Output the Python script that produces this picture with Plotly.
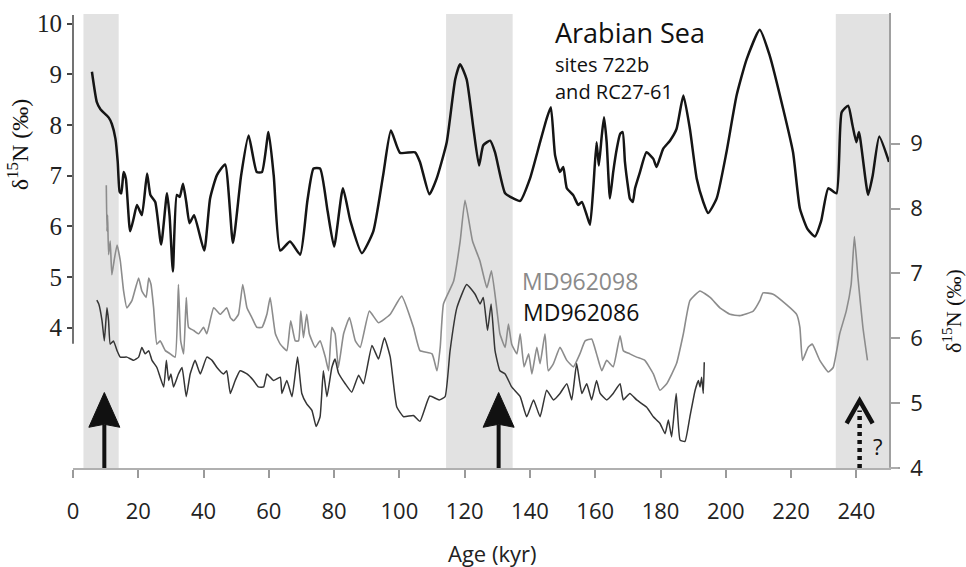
import plotly.graph_objects as go

# ---------------- data ----------------
# Arabian Sea, sites 722b and RC27-61 (left axis, d15N permil)
as_age = [5.8, 7.3, 8.4, 10.9, 11.9, 13.0, 13.7, 14.3, 14.8, 15.5, 16.2, 17.5, 18.6, 19.6, 21.1,
          22.7, 23.7, 25.2, 27.0, 28.8, 29.6, 30.6, 31.8, 32.7, 33.7, 34.7, 35.7, 37.1, 40.2, 42.0,
          44.1, 46.6, 49.0, 51.5, 53.8, 56.3, 57.9, 59.9, 61.5, 63.5, 66.5, 69.6, 71.8, 73.7, 75.7,
          78.0, 80.0, 82.7, 85.0, 88.5, 92.0, 95.0, 97.4, 100.2, 104.8, 106.3, 109.2, 111.4, 114.5,
          117.1, 118.6, 120.6, 122.7, 124.4, 125.7, 127.8, 129.3, 132.4, 134.9, 137.0, 140.0, 143.1,
          145.1, 146.4, 147.7, 149.2, 150.2, 151.3, 153.3, 154.8, 155.9, 157.4, 158.4, 159.4, 160.4,
          161.1, 162.0, 162.7, 163.5, 164.5, 165.5, 166.6, 167.6, 168.4, 169.1, 170.1, 170.6, 171.5,
          172.2, 173.7, 175.7, 177.8, 178.8, 180.8, 182.9, 184.9, 187.0, 189.0, 191.1, 193.1, 194.6,
          197.2, 200.2, 203.3, 206.4, 210.4, 213.5, 217.6, 220.6, 222.7, 225.0, 227.3, 229.2, 231.4,
          233.9, 235.5, 237.5, 238.8, 240.0, 240.8, 243.6, 245.0, 247.0, 250.0]
as_d15n = [9.05, 8.45, 8.31, 8.15, 8.02, 7.73, 7.27, 6.68, 6.65, 7.07, 6.94, 5.90, 6.16, 6.42, 6.22,
           7.04, 6.62, 6.48, 5.64, 6.65, 6.20, 5.11, 6.62, 6.58, 6.84, 6.48, 6.06, 6.22, 5.52, 6.55,
           7.01, 7.22, 5.67, 7.00, 7.79, 7.07, 7.07, 7.86, 7.00, 5.52, 5.70, 5.44, 6.50, 7.14, 7.14,
           6.30, 5.60, 6.75, 6.10, 5.47, 5.90, 7.00, 7.89, 7.45, 7.46, 7.27, 6.63, 6.94, 7.66,
           8.90, 9.20, 8.90, 7.92, 7.20, 7.60, 7.69, 7.46, 6.65, 6.55, 6.50, 6.94, 7.66,
           8.12, 8.35, 7.40, 7.07, 7.17, 6.75, 6.61, 6.42, 6.48, 6.22, 6.03, 6.75, 7.66,
           7.20, 7.79, 8.15, 7.66, 6.55, 7.07, 7.53, 7.82, 7.86, 7.27, 6.75, 6.55, 6.48,
           6.75, 7.07, 7.46, 7.33, 7.17, 7.53, 7.69, 7.92, 8.58, 7.92, 6.94, 6.48, 6.26,
           6.55, 7.46, 8.58, 9.30, 9.88, 9.36, 8.31, 7.46, 6.35, 5.95, 5.80, 6.10, 6.75,
           6.65, 8.25, 8.38, 8.00, 7.66, 7.86, 6.62, 7.00, 7.77, 7.27]

# MD962098 (right axis)
md98_age = [10.2, 10.4, 10.6, 10.9, 11.4, 11.9, 12.6, 13.5, 14.5, 15.5, 16.5, 18.05, 20.1, 21.1, 22.4,
            23.2, 23.9, 24.7, 25.7, 26.7, 28.3, 29.8, 31.3, 32.3, 33.0, 33.9, 34.7, 35.4, 37.0, 38.5,
            40.0, 41.0, 43.1, 45.1, 47.1, 48.2, 49.2, 50.7, 52.0, 53.3, 54.8, 56.3, 57.9, 59.4, 60.4,
            62.0, 63.5, 65.5, 66.7, 68.1, 69.1, 69.8, 70.6, 71.6, 72.4, 74.2, 75.7, 77.3, 78.3, 79.3,
            80.3, 81.3, 82.9, 84.7, 86.5, 88.0, 90.8, 93.6, 97.2, 100.7, 104.3, 106.3, 110.0, 111.5,
            112.5, 113.5, 116.6, 118.6, 120.1, 122.4, 124.7, 126.8, 128.2, 129.8, 130.8, 132.4, 133.4,
            134.4, 136.0, 137.0, 138.2, 139.6, 140.6, 142.1, 143.1, 144.6, 145.6, 147.2, 149.2, 151.3,
            153.3, 155.3, 156.9, 158.9, 160.4, 162.0, 163.5, 165.5, 167.6, 168.6, 170.6, 172.7, 175.2,
            177.8, 179.8, 181.9, 184.9, 187.0, 189.0, 192.1, 195.2, 198.2, 201.3, 204.3, 208.4, 210.4,
            211.4, 214.5, 218.6, 221.7, 222.7, 223.5, 225.2, 226.5, 228.8, 231.4, 232.9, 234.9, 236.9,
            238.4, 239.4, 240.5, 242.0, 243.4]
md98_d15n = [8.36, 7.65, 7.90, 7.29, 7.50, 6.98, 7.20, 7.44, 7.19, 6.73, 6.47, 6.58, 6.93, 6.73, 6.63,
             6.93, 6.83, 6.47, 5.91, 5.96, 5.81, 5.76, 5.71, 6.83, 5.96, 5.76, 6.63, 6.17, 6.12, 6.07,
             6.17, 6.07, 6.47, 6.37, 6.47, 6.32, 6.27, 6.37, 6.83, 6.47, 6.32, 6.17, 6.17, 6.37, 6.63,
             6.07, 5.91, 5.81, 6.27, 5.96, 5.96, 6.42, 6.01, 6.37, 6.07, 5.86, 5.96, 5.71, 5.50, 6.17,
             6.07, 5.55, 6.07, 6.32, 5.96, 5.86, 6.42, 6.24, 6.37, 6.65, 6.17, 5.81, 5.76, 5.50,
             5.86, 6.53, 6.88, 7.49, 8.13, 7.50, 7.19, 6.78, 7.04, 6.47, 6.07, 5.86, 6.22,
             5.91, 5.76, 6.07, 5.56, 5.76, 5.45, 5.86, 5.61, 6.07, 5.50, 5.61, 5.86, 5.66,
             5.56, 5.76, 5.96, 5.99, 5.76, 5.50, 5.66, 5.56, 6.04, 5.81, 5.76, 5.71, 5.66,
             5.45, 5.20, 5.30, 5.61, 6.07, 6.58, 6.73, 6.63, 6.47, 6.37, 6.35, 6.42, 6.58,
             6.70, 6.68, 6.52, 6.37, 6.17, 5.66, 5.86, 5.91, 5.66, 5.48, 5.55, 6.07, 6.42,
             6.83, 7.57, 6.93, 6.17, 5.66]

# MD962086 (right axis)
md86_age = [7.3, 7.9, 8.9, 9.6, 10.4, 10.9, 11.4, 12.4, 13.5, 14.5, 16.5, 18.6, 20.1, 21.1, 22.1,
            23.2, 24.2, 25.7, 26.7, 27.8, 28.6, 29.3, 30.0, 30.8, 32.3, 33.4, 34.7, 35.9, 37.4, 39.0,
            41.0, 42.6, 44.1, 46.1, 47.1, 48.2, 49.7, 51.2, 53.3, 55.3, 56.8, 58.4, 59.4, 61.4, 63.5,
            64.0, 65.5, 67.1, 68.8, 70.1, 71.6, 73.2, 74.5, 75.7, 76.7, 77.8, 79.3, 80.3, 81.3, 83.4,
            85.4, 87.5, 89.0, 91.6, 93.6, 95.4, 97.2, 99.2, 101.3, 104.3, 106.3, 109.3, 112.2, 114.0,
            115.5, 117.6, 120.6, 123.2, 124.7, 125.7, 127.0, 128.1, 129.3, 130.8, 132.4, 134.4, 137.0,
            139.0, 141.1, 143.1, 145.1, 147.2, 149.2, 151.3, 152.8, 154.3, 155.9, 157.4, 158.9, 160.4,
            161.5, 163.5, 165.5, 167.6, 168.6, 170.6, 172.7, 175.7, 177.8, 179.8, 181.4, 182.4, 183.4,
            184.8, 186.0, 187.5, 189.0, 190.6, 191.6, 192.1, 192.6, 193.1, 193.4]
md86_d15n = [6.59, 6.53, 6.27, 5.96, 6.47, 6.27, 5.91, 5.96, 5.81, 5.71, 5.71, 5.66, 5.71, 5.86, 5.76,
             5.81, 5.66, 5.55, 5.40, 5.25, 5.66, 5.35, 5.45, 5.25, 5.45, 5.55, 5.10, 5.45, 5.66, 5.45,
             5.71, 5.66, 5.55, 5.45, 5.50, 5.15, 5.35, 5.50, 5.45, 5.35, 5.25, 5.25, 5.45, 5.35, 5.40,
             5.15, 5.35, 5.10, 5.71, 5.15, 4.99, 4.89, 4.64, 4.79, 5.50, 5.10, 5.55, 5.68, 5.47, 5.30,
             5.17, 5.43, 5.30, 5.89, 5.68, 6.01, 5.71, 4.94, 4.79, 4.81, 4.72, 5.11, 5.05, 5.10,
             5.80, 6.47, 6.83, 6.68, 6.53, 6.63, 6.12, 6.53, 5.81, 5.50, 5.45, 5.25, 5.10,
             4.79, 5.05, 4.79, 5.20, 5.05, 5.15, 5.30, 5.05, 5.61, 5.15, 5.30, 5.05, 5.35,
             5.15, 5.05, 5.15, 5.30, 5.05, 5.15, 5.05, 4.94, 4.79, 4.69, 4.53, 4.74, 4.48,
             5.15, 4.43, 4.41, 4.79, 5.20, 5.35, 5.25, 5.40, 5.15, 5.63]

# shaded intervals (kyr)
band_start = [3.2, 114.3, 233.7]
band_end = [14.0, 134.7, 250.0]

# arrow positions (kyr); last one is the uncertain (dotted) one
arrow_age = [9.6, 130.4]
dotted_arrow_age = 241.0

x_ticks = list(range(0, 241, 20))
left_ticks = [4, 5, 6, 7, 8, 9, 10]
right_ticks = [4, 5, 6, 7, 8, 9]

# ---------------- layout geometry ----------------
W, H = 966, 567
ML, MR, MT, MB = 73, 77, 10, 99
PW, PH = W - ML - MR, H - MT - MB
X_RANGE = [0, 250]
Y_LEFT = [1.229, 10.21]
Y_RIGHT = [4.0, 11.017]
SANS = "Open Sans"
SERIF = "Liberation Serif"

def xpaper(px):
    return (px - ML) / PW

def ypaper(py):
    return (H - MB - py) / PH

def kyr_dx(dpx):
    return dpx * (X_RANGE[1] - X_RANGE[0]) / PW

def yr(py):
    return Y_RIGHT[0] + (H - MB - py) * (Y_RIGHT[1] - Y_RIGHT[0]) / PH

fig = go.Figure()
fig.add_trace(go.Scatter(x=as_age, y=as_d15n, mode="lines", yaxis="y",
                         line=dict(color="#151515", width=2.5, shape="spline", smoothing=0.5),
                         name="Arabian Sea"))
fig.add_trace(go.Scatter(x=md98_age, y=md98_d15n, mode="lines", yaxis="y2",
                         line=dict(color="#8c8c8c", width=1.6, shape="spline", smoothing=0.4),
                         name="MD962098"))
fig.add_trace(go.Scatter(x=md86_age, y=md86_d15n, mode="lines", yaxis="y2",
                         line=dict(color="#353535", width=1.5, shape="spline", smoothing=0.4),
                         name="MD962086"))

shapes = []
for a, b in zip(band_start, band_end):
    shapes.append(dict(type="rect", xref="x", yref="paper", x0=a, x1=b, y0=0, y1=ypaper(11),
                       fillcolor="#e2e2e2", line=dict(width=0), layer="below"))
# left axis line (partial)
shapes.append(dict(type="line", xref="paper", yref="y", x0=0, x1=0, y0=3.68, y1=10.17,
                   line=dict(color="#444444", width=1.5)))
# x axis line extension
shapes.append(dict(type="line", xref="paper", yref="paper", x0=1, x1=xpaper(898), y0=0, y1=0,
                   line=dict(color="#b0b0b0", width=1.5)))
# solid arrows
for a in arrow_age:
    shapes.append(dict(type="line", xref="x", yref="y2", x0=a, x1=a, y0=yr(468), y1=yr(424),
                       line=dict(color="#111111", width=4)))
    hw = kyr_dx(15.5)
    path = "M {},{} L {},{} L {},{} L {},{} Z".format(a - hw, yr(427), a, yr(392), a + hw, yr(427), a, yr(424))
    shapes.append(dict(type="path", xref="x", yref="y2", path=path,
                       fillcolor="#111111", line=dict(color="#111111", width=1)))
# dotted arrow with open chevron
a = dotted_arrow_age
shapes.append(dict(type="line", xref="x", yref="y2", x0=a, x1=a, y0=yr(468), y1=yr(410),
                   line=dict(color="#111111", width=4.5, dash="4px,4px")))
hw = kyr_dx(13)
shapes.append(dict(type="path", xref="x", yref="y2",
                   path="M {},{} L {},{} L {},{}".format(a - hw, yr(423), a, yr(400), a + hw, yr(423)),
                   line=dict(color="#111111", width=4.5)))

annotations = [
    dict(text="Arabian Sea", x=xpaper(553), y=ypaper(30), font=dict(family=SANS, size=27, color="#111")),
    dict(text="sites 722b", x=xpaper(553), y=ypaper(62), font=dict(family=SANS, size=20, color="#111")),
    dict(text="and RC27-61", x=xpaper(553), y=ypaper(89), font=dict(family=SANS, size=20, color="#111")),
    dict(text="MD962098", x=xpaper(520), y=ypaper(280), font=dict(family=SANS, size=23, color="#8a8a8a")),
    dict(text="MD962086", x=xpaper(521), y=ypaper(311), font=dict(family=SANS, size=23, color="#111")),
]
for an in annotations:
    an.update(xref="paper", yref="paper", xanchor="left", yanchor="middle", showarrow=False)
annotations += [
    dict(text="Age (kyr)", x=xpaper(492), y=ypaper(554), xref="paper", yref="paper", showarrow=False,
         xanchor="center", yanchor="middle", font=dict(family=SANS, size=22, color="#222")),
    dict(text="δ<sup>15</sup>N (‰)", x=xpaper(18), y=ypaper(143), xref="paper", yref="paper",
         showarrow=False, textangle=-90, xanchor="center", yanchor="middle",
         font=dict(family=SERIF, size=24, color="#111")),
    dict(text="δ<sup>15</sup>N (‰)", x=xpaper(952), y=ypaper(310), xref="paper", yref="paper",
         showarrow=False, textangle=-90, xanchor="center", yanchor="middle",
         font=dict(family=SERIF, size=22, color="#111")),
    dict(text="?", x=xpaper(878), y=ypaper(446), xref="paper", yref="paper", showarrow=False,
         xanchor="center", yanchor="middle", font=dict(family=SANS, size=22, color="#111")),
]

fig.update_layout(
    width=W, height=H, margin=dict(l=ML, r=MR, t=MT, b=MB),
    paper_bgcolor="white", plot_bgcolor="white", showlegend=False,
    xaxis=dict(range=X_RANGE, tickvals=x_ticks, ticks="outside", ticklen=8, tickwidth=1.5,
               tickcolor="#9a9a9a", showline=True, linecolor="#b0b0b0", linewidth=1.5,
               showgrid=False, zeroline=False, ticklabelstandoff=15,
               tickfont=dict(family=SANS, size=22, color="#222")),
    yaxis=dict(range=Y_LEFT, tickvals=left_ticks, ticks="outside", ticklen=5, tickwidth=1.5,
               tickcolor="#444", showline=False, showgrid=False, zeroline=False,
               tickfont=dict(family=SERIF, size=25, color="#222")),
    yaxis2=dict(range=Y_RIGHT, tickvals=right_ticks, overlaying="y", side="right", ticks="outside",
                ticklen=9, tickwidth=1.5, tickcolor="#a0a0a0", showline=True, linecolor="#a0a0a0",
                linewidth=1.5, showgrid=False, zeroline=False, ticklabelstandoff=6,
                tickfont=dict(family=SANS, size=22, color="#222")),
    shapes=shapes, annotations=annotations,
)

fig.write_html("out.html")
